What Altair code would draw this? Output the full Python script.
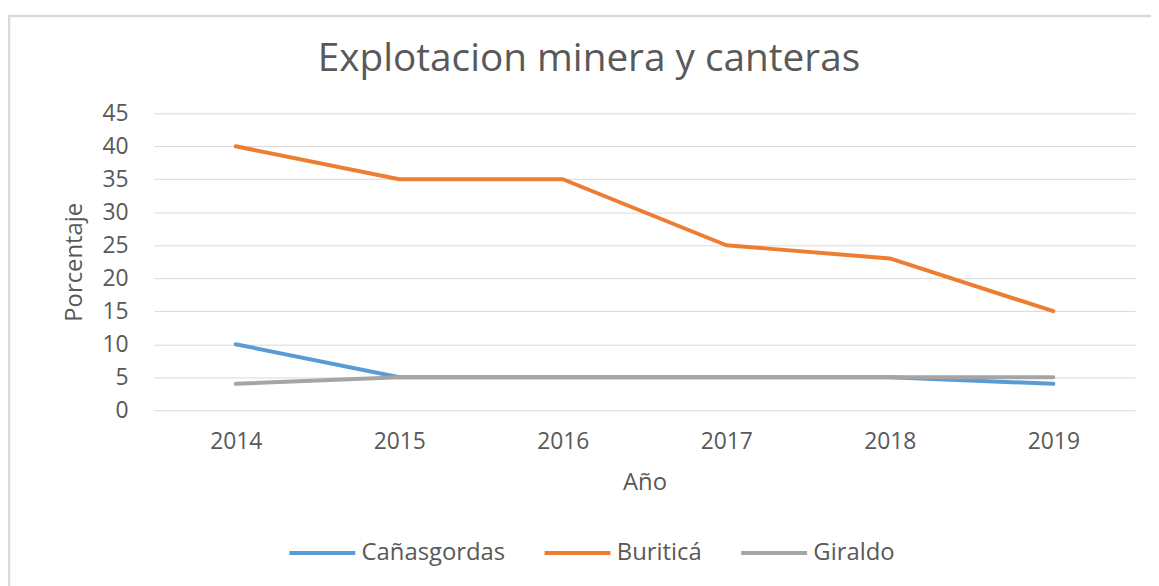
import altair as alt
import pandas as pd

years = ["2014", "2015", "2016", "2017", "2018", "2019"]
series = ["Cañasgordas", "Buriticá", "Giraldo"]
canasgordas = [10, 5, 5, 5, 5, 4]
buritica = [40, 35, 35, 25, 23, 15]
giraldo = [4, 5, 5, 5, 5, 5]
colors = ["#5B9BD5", "#ED7D31", "#A5A5A5"]
y_ticks = [0, 5, 10, 15, 20, 25, 30, 35, 40, 45]

rows = []
for name, vals in zip(series, [canasgordas, buritica, giraldo]):
    for i, (yr, v) in enumerate(zip(years, vals)):
        rows.append({"Año": yr, "Serie": name, "Porcentaje": v})
df = pd.DataFrame(rows)

FONT = "Open Sans"
TXT = "#595959"
W, H = 988, 299

lines = alt.Chart(df).mark_line(strokeWidth=4, strokeCap="round", strokeJoin="round").encode(
    x=alt.X("Año:O", sort=years,
            scale=alt.Scale(type="point", padding=0.5),
            axis=alt.Axis(title="Año", labelAngle=0, ticks=False, domain=False,
                          grid=False, labelPadding=21, titlePadding=17,
                          labelFontSize=23, titleFontSize=24,
                          labelColor=TXT, titleColor=TXT,
                          labelFont=FONT, titleFont=FONT, titleFontWeight="normal")),
    y=alt.Y("Porcentaje:Q",
            scale=alt.Scale(domain=[0, 45], nice=False),
            axis=alt.Axis(title="Porcentaje", values=y_ticks, ticks=False, domain=False,
                          gridColor="#D9D9D9", gridWidth=1, labelPadding=26,
                          titlePadding=16, labelFontSize=23, titleFontSize=24,
                          labelColor=TXT, titleColor=TXT,
                          labelFont=FONT, titleFont=FONT, titleFontWeight="normal")),
    color=alt.Color("Serie:N", sort=series,
                    scale=alt.Scale(domain=series, range=colors),
                    legend=alt.Legend(title=None, orient="none", direction="horizontal",
                                      legendX=134, legendY=407,
                                      symbolType="stroke", symbolSize=4400,
                                      symbolStrokeWidth=4, labelFontSize=24,
                                      labelFont=FONT, labelColor=TXT,
                                      labelOffset=4, columnPadding=31)),
    order=alt.Order("Serie:N", sort="descending"),
)

border = alt.Chart(alt.Data(values=[{}])).mark_rect(
    fillOpacity=0, stroke="#D9D9D9", strokeWidth=2.5
).encode(
    x=alt.value(-146), x2=alt.value(1300),
    y=alt.value(-98), y2=alt.value(700),
)

chart = alt.layer(border, lines).properties(
    width=W, height=H,
    title=alt.TitleParams("Explotacion minera y canteras", fontSize=39, font=FONT,
                          fontWeight="normal", color=TXT, anchor="middle",
                          dx=-56, offset=26, dy=91),
    autosize=alt.AutoSizeParams(type="none"),
    padding={"left": 147, "top": 104, "right": 16, "bottom": 175},
).configure_view(stroke=None)

chart.save("out.html", embed_options={"renderer": "svg", "actions": False})
